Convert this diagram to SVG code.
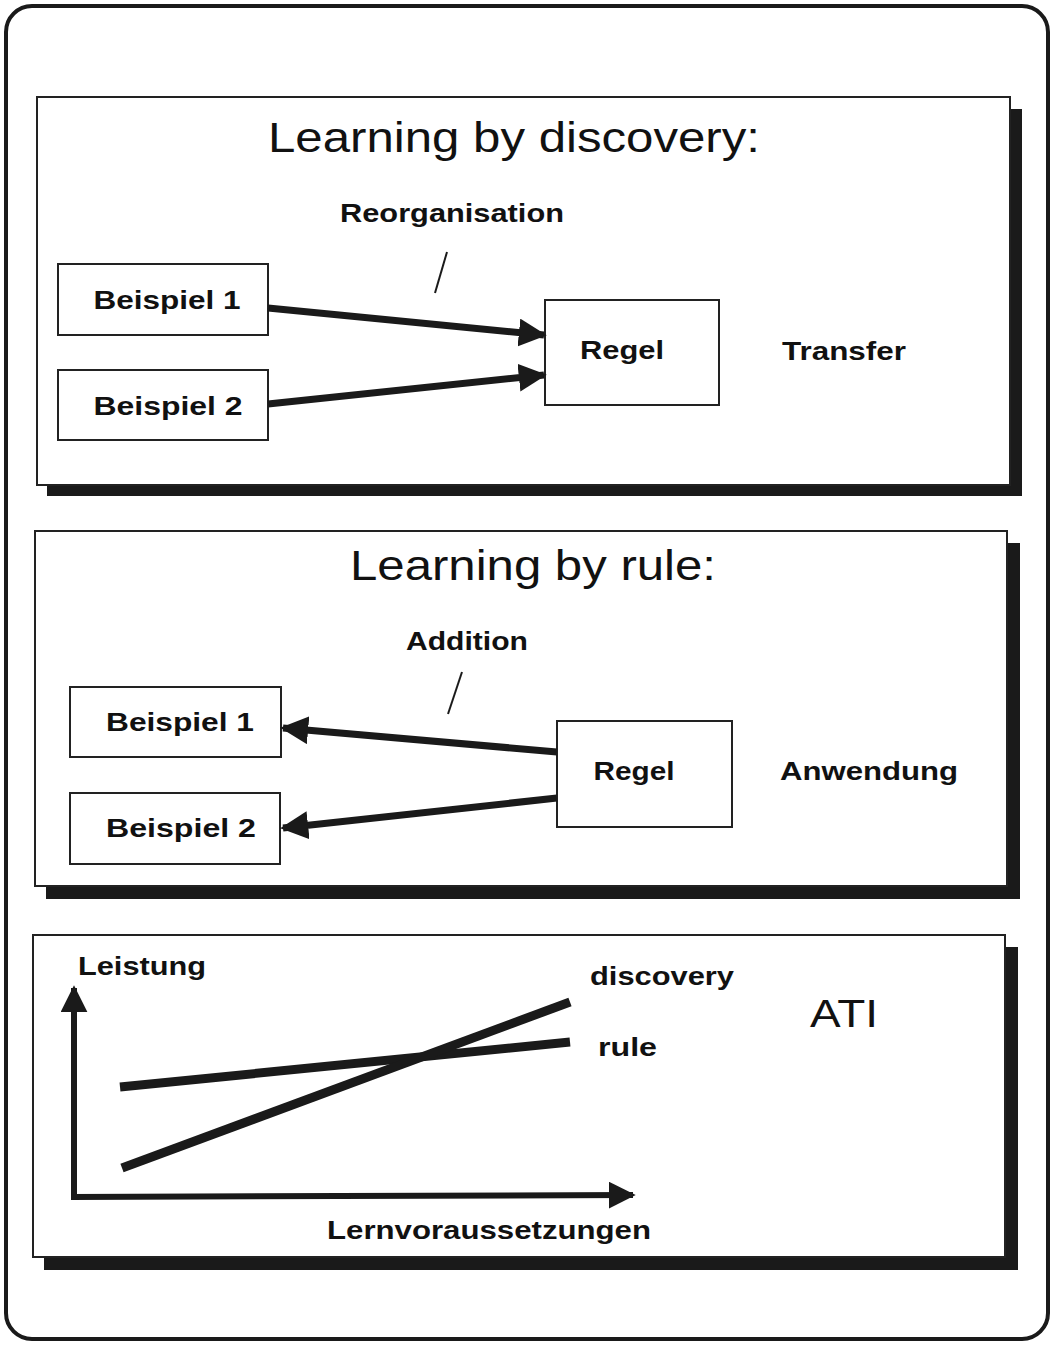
<svg xmlns="http://www.w3.org/2000/svg" width="1054" height="1345" viewBox="0 0 1054 1345">
<style>
.panel{fill:#fff;stroke:#222;stroke-width:2}
.shadow{fill:#1a1a1a}
.box{fill:#fff;stroke:#222;stroke-width:2}
.title{font-family:"Liberation Sans",Arial,sans-serif;font-size:42px;fill:#111;text-anchor:middle}
.lbl{font-family:"Liberation Sans",Arial,sans-serif;font-size:26px;font-weight:bold;fill:#111;text-anchor:middle}
.edge{stroke:#1a1a1a;stroke-width:7;fill:none}
.thin{stroke:#1a1a1a;stroke-width:2;fill:none}
.line{stroke:#1a1a1a;stroke-width:9;fill:none}
</style>
<defs>
<marker id="ah" viewBox="0 0 10 10" refX="9" refY="5" markerWidth="4" markerHeight="4" orient="auto" markerUnits="strokeWidth">
<path d="M0,0 L10,5 L0,10 z" fill="#1a1a1a"/>
</marker>
<marker id="ax" viewBox="0 0 10 10" refX="9" refY="5" markerWidth="4.5" markerHeight="4.5" orient="auto" markerUnits="strokeWidth">
<path d="M0,0 L10,5 L0,10 z" fill="#1a1a1a"/>
</marker>
</defs>
<rect x="0" y="0" width="1054" height="1345" fill="#fff"/>
<rect x="6" y="6" width="1042" height="1333" rx="26" ry="26" fill="#fff" stroke="#1a1a1a" stroke-width="4"/>

<g id="panel1">
<rect class="shadow" x="47" y="109" width="975" height="387"/>
<rect class="panel" x="37" y="97" width="973" height="388"/>
<text class="title" x="514" y="152" textLength="492" lengthAdjust="spacingAndGlyphs">Learning by discovery:</text>
<text class="lbl" x="452" y="222" textLength="224" lengthAdjust="spacingAndGlyphs">Reorganisation</text>
<text class="lbl" x="844" y="360" textLength="124" lengthAdjust="spacingAndGlyphs">Transfer</text>
</g>
<g id="p1-beispiel1"><rect class="box" x="58" y="264" width="210" height="71"/><text class="lbl" x="167" y="309" textLength="147" lengthAdjust="spacingAndGlyphs">Beispiel 1</text></g>
<g id="p1-beispiel2"><rect class="box" x="58" y="370" width="210" height="70"/><text class="lbl" x="168" y="415" textLength="149" lengthAdjust="spacingAndGlyphs">Beispiel 2</text></g>
<g id="p1-regel"><rect class="box" x="545" y="300" width="174" height="105"/><text class="lbl" x="622" y="359" textLength="84" lengthAdjust="spacingAndGlyphs">Regel</text></g>

<g id="panel2">
<rect class="shadow" x="46" y="543" width="974" height="356"/>
<rect class="panel" x="35" y="531" width="972" height="355"/>
<text class="title" x="533" y="580" textLength="366" lengthAdjust="spacingAndGlyphs">Learning by rule:</text>
<text class="lbl" x="467" y="650" textLength="122" lengthAdjust="spacingAndGlyphs">Addition</text>
<text class="lbl" x="869" y="780" textLength="178" lengthAdjust="spacingAndGlyphs">Anwendung</text>
</g>
<g id="p2-beispiel1"><rect class="box" x="70" y="687" width="211" height="70"/><text class="lbl" x="180" y="731" textLength="148" lengthAdjust="spacingAndGlyphs">Beispiel 1</text></g>
<g id="p2-beispiel2"><rect class="box" x="70" y="793" width="210" height="71"/><text class="lbl" x="181" y="837" textLength="150" lengthAdjust="spacingAndGlyphs">Beispiel 2</text></g>
<g id="p2-regel"><rect class="box" x="557" y="721" width="175" height="106"/><text class="lbl" x="634" y="780" textLength="81" lengthAdjust="spacingAndGlyphs">Regel</text></g>

<g id="panel3">
<rect class="shadow" x="44" y="947" width="974" height="323"/>
<rect class="panel" x="33" y="935" width="972" height="322"/>
<text class="lbl" x="78" y="975" style="text-anchor:start" textLength="128" lengthAdjust="spacingAndGlyphs">Leistung</text>
<text class="lbl" x="590" y="985" style="text-anchor:start" textLength="144" lengthAdjust="spacingAndGlyphs">discovery</text>
<text class="lbl" x="598" y="1056" style="text-anchor:start" textLength="59" lengthAdjust="spacingAndGlyphs">rule</text>
<text class="title" x="810" y="1027" style="text-anchor:start;font-size:38px" textLength="68" lengthAdjust="spacingAndGlyphs">ATI</text>
<text class="lbl" x="489" y="1239" textLength="324" lengthAdjust="spacingAndGlyphs">Lernvoraussetzungen</text>
<line class="line" x1="120" y1="1087" x2="570" y2="1042"/>
<line class="line" x1="122" y1="1168" x2="570" y2="1002"/>
</g>

<g id="connectors">
<line class="edge" x1="268" y1="308" x2="544" y2="335" marker-end="url(#ah)"/>
<line class="edge" x1="268" y1="404" x2="544" y2="375" marker-end="url(#ah)"/>
<line class="thin" x1="447" y1="252" x2="435" y2="293"/>
<line class="edge" x1="557" y1="752" x2="283" y2="728" marker-end="url(#ah)"/>
<line class="edge" x1="557" y1="798" x2="283" y2="828" marker-end="url(#ah)"/>
<line class="thin" x1="462" y1="672" x2="448" y2="714"/>
<line class="edge" x1="74" y1="1200" x2="74" y2="988" marker-end="url(#ax)" style="stroke-width:6"/>
<line class="edge" x1="71" y1="1197" x2="633" y2="1195" marker-end="url(#ax)" style="stroke-width:6"/>
</g>
</svg>
